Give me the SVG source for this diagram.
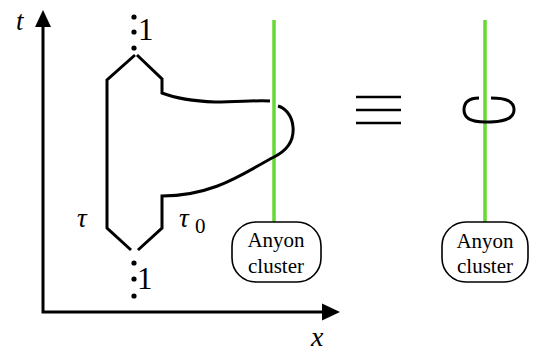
<svg xmlns="http://www.w3.org/2000/svg" width="539" height="354" viewBox="0 0 539 354">
<style>
.blk{fill:none;stroke:#000;stroke-width:3;stroke-linejoin:miter}
.grn{stroke:#66d936;stroke-width:3.5;fill:none}
.box{fill:#fff;stroke:#000;stroke-width:1.6}
</style>
<rect width="539" height="354" fill="#fff"/>
<g id="axes">
  <path class="blk" d="M43 313.5 V24 M41.5 312 H325"/>
  <polygon points="43,10 35,27 51,27"/>
  <polygon points="340,312 322,303.5 322,320.5"/>
  <text font-family="Liberation Serif, serif" font-style="italic" x="16" y="30" font-size="27">t</text>
  <text font-family="Liberation Serif, serif" font-style="italic" x="311" y="346" font-size="28">x</text>
</g>
<g id="connectors">
  <line class="grn" x1="274" y1="20" x2="274" y2="223"/>
  <line class="grn" x1="485" y1="20" x2="485" y2="223"/>
</g>
<g id="worldline">
  <path class="blk" d="M135 55 L107 80 L107 228 L131 250"/>
  <path class="blk" d="M137 55 L162 79 L162 93 C175 98 190 101 215 102 C240 102 255 100 270 101"/>
  <path class="blk" d="M278 106 C285 108 292 115 293 127 C294 138 290 149 274 157 C245 172 215 196 162 196 L162 228 L138 250"/>
  <g fill="#000">
    <circle cx="134" cy="17" r="2.6"/><circle cx="134" cy="32" r="2.6"/><circle cx="134" cy="48" r="2.6"/>
    <circle cx="134" cy="263" r="2.6"/><circle cx="134" cy="279" r="2.6"/><circle cx="134" cy="296" r="2.6"/>
  </g>
  <text font-family="Liberation Serif, serif" x="138" y="40" font-size="31">1</text>
  <text font-family="Liberation Serif, serif" x="137" y="289" font-size="31">1</text>
  <text font-family="Liberation Serif, serif" font-style="italic" x="77" y="227" font-size="27">τ</text>
  <text font-family="Liberation Serif, serif" font-style="italic" x="179" y="227" font-size="27">τ</text>
  <text font-family="Liberation Serif, serif" x="195" y="233" font-size="21">0</text>
</g>
<g id="cluster-left">
  <rect class="box" x="232" y="222" width="89" height="60" rx="24" ry="24"/>
  <text font-family="Liberation Serif, serif" font-size="21" text-anchor="middle" x="276" y="247">Anyon</text>
  <text font-family="Liberation Serif, serif" font-size="21" text-anchor="middle" x="276" y="273">cluster</text>
</g>
<g id="equiv">
  <path d="M356 97 H401 M356 110 H401 M356 123 H401" stroke="#000" stroke-width="2.6"/>
</g>
<g id="loop">
  <path class="blk" d="M479 98 C468 98 464 103 464 110 C464 118 471 122 485 122 C501 122 514 120 514 110 C514 101 506 98 491 98"/>
</g>
<g id="cluster-right">
  <rect class="box" x="442" y="222" width="86" height="60" rx="24" ry="24"/>
  <text font-family="Liberation Serif, serif" font-size="21" text-anchor="middle" x="485" y="248">Anyon</text>
  <text font-family="Liberation Serif, serif" font-size="21" text-anchor="middle" x="485" y="273">cluster</text>
</g>
</svg>
